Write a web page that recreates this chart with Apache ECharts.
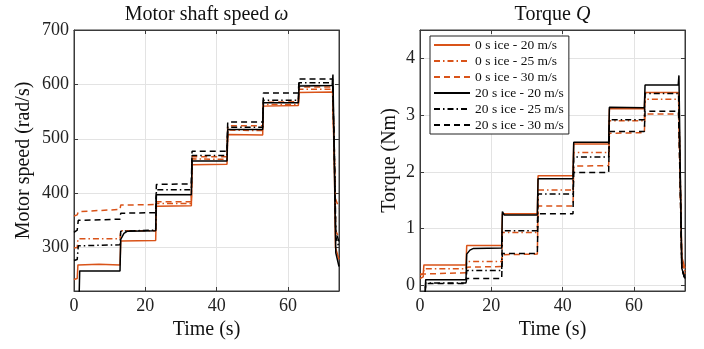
<!DOCTYPE html>
<html>
<head>
<meta charset="utf-8">
<script src="https://cdn.jsdelivr.net/npm/echarts@6/dist/echarts.min.js"></script>
<style>html,body{margin:0;padding:0;background:#fff;}#c{width:704px;height:349px;}</style>
</head>
<body>
<div id="c"></div>
<script>
// ---------- data ----------
const seriesNames = ['0 s ice - 20 m/s','0 s ice - 25 m/s','0 s ice - 30 m/s','20 s ice - 20 m/s','20 s ice - 25 m/s','20 s ice - 30 m/s'];
const timeTicks = [0, 20, 40, 60];
const speedTicks = [300, 400, 500, 600, 700];
const torqueTicks = [0, 1, 2, 3, 4];

// Motor shaft speed [time s, rad/s]
const speedO20 = [[0,241],[0.9,243],[1.1,268],[7,269],[12.9,268],[13.1,312],[22.9,313],[23.1,376],[32.9,377],[33.1,452],[42.9,453],[43.1,508],[52.9,507],[53.1,560],[62.9,561],[63.1,585],[72.5,586],[73.0,450],[73.3,300],[74.3,278]];
const speedO25 = [[0,299],[0.9,300],[1.1,316],[12.9,316],[13.1,331],[22.9,331],[23.1,381],[32.9,381],[33.1,463],[42.9,462],[43.1,516],[52.9,515],[53.1,563],[62.9,563],[63.1,591],[72.5,591],[73.0,460],[73.4,330],[74.3,318]];
const speedO30 = [[0,358],[0.9,360],[1.2,366],[12.9,370],[13.1,378],[22.9,379],[23.1,384],[32.9,384],[33.1,467],[42.9,467],[43.1,524],[52.9,524],[53.1,567],[62.9,568],[63.1,595],[72.5,595],[73.0,480],[73.3,390],[74.3,372]];
const speedB20 = [[0,200],[1.4,200],[1.6,257],[12.9,257],[13.1,315],[14,326],[15,330],[22.9,331],[23.1,397],[32.9,397],[33.1,459],[42.9,459],[43.1,517],[52.9,517],[53.1,566],[62.9,566],[63.1,597],[72.4,598],[72.6,618],[73.0,450],[73.4,290],[74.3,265]];
const speedB25 = [[0,276],[0.9,278],[1.2,303],[12.9,305],[13.1,330],[22.9,332],[23.1,406],[32.9,406],[33.1,469],[42.9,469],[43.1,521],[52.9,521],[53.1,571],[62.9,571],[63.1,603],[72.5,603],[73.0,470],[73.4,320],[74.3,300]];
const speedB30 = [[0,328],[0.9,332],[1.2,350],[12.9,352],[13.1,363],[22.9,364],[23.1,416],[32.9,417],[33.1,477],[42.9,477],[43.1,531],[52.9,531],[53.1,584],[62.9,584],[63.1,610],[72.5,610],[73.0,480],[73.4,330],[74.3,310]];

// Torque [time s, Nm]
const torqueO20 = [[0,0.18],[0.9,0.2],[1.1,0.36],[12.9,0.36],[13.1,0.70],[22.9,0.70],[23.1,1.26],[32.9,1.26],[33.1,1.93],[42.9,1.93],[43.1,2.49],[52.9,2.49],[53.1,3.11],[62.9,3.11],[63.1,3.40],[72.5,3.40],[73.0,1.8],[73.4,0.5],[74.3,0.3]];
const torqueO25 = [[0,0.12],[0.9,0.15],[1.1,0.29],[12.9,0.29],[13.1,0.42],[22.9,0.42],[23.1,0.93],[32.9,0.93],[33.1,1.68],[42.9,1.68],[43.1,2.34],[52.9,2.34],[53.1,2.90],[62.9,2.90],[63.1,3.28],[72.5,3.28],[73.0,1.7],[73.4,0.4],[74.3,0.25]];
const torqueO30 = [[0,0.2],[0.9,0.2],[1.1,0.23],[12.9,0.22],[13.1,0.32],[22.9,0.33],[23.1,0.54],[32.9,0.55],[33.1,1.40],[42.9,1.40],[43.1,2.10],[52.9,2.11],[53.1,2.68],[62.9,2.69],[63.1,3.02],[72.5,3.02],[73.0,1.6],[73.4,0.4],[74.3,0.2]];
const torqueB20 = [[0,-0.2],[1.4,-0.2],[1.6,0.10],[12.9,0.10],[13.1,0.55],[14,0.62],[15,0.65],[22.9,0.66],[23.1,1.30],[23.6,1.24],[32.9,1.24],[33.1,1.88],[42.9,1.88],[43.1,2.52],[52.9,2.52],[53.1,3.14],[62.9,3.13],[63.1,3.53],[72.4,3.53],[72.6,3.70],[73.0,1.9],[73.4,0.3],[74.3,0.12]];
const torqueB25 = [[0,-0.2],[1.4,-0.2],[1.6,0.04],[12.9,0.04],[13.1,0.26],[22.9,0.26],[23.1,0.96],[32.9,0.96],[33.1,1.61],[42.9,1.61],[43.1,2.26],[52.9,2.26],[53.1,2.92],[62.9,2.92],[63.1,3.38],[72.5,3.38],[73.0,1.8],[73.4,0.3],[74.3,0.1]];
const torqueB30 = [[0,-0.2],[1.4,-0.2],[1.6,0.03],[12.9,0.03],[13.1,0.12],[22.9,0.12],[23.1,0.56],[32.9,0.56],[33.1,1.26],[42.9,1.26],[43.1,1.99],[52.9,1.99],[53.1,2.71],[62.9,2.71],[63.1,3.07],[72.5,3.07],[73.0,1.6],[73.4,0.3],[74.3,0.1]];

const speedData = [speedO20, speedO25, speedO30, speedB20, speedB25, speedB30];
const torqueData = [torqueO20, torqueO25, torqueO30, torqueB20, torqueB25, torqueB30];

// ---------- style ----------
const FONT = 'Liberation Serif';
const ORANGE = '#D95319';
const BLACK = '#000000';
const AX = '#3a3a3a';
const GRIDC = '#e3e3e3';
const styles = [
  {color: ORANGE, type: 'solid'},
  {color: ORANGE, type: [6,3,1.5,3]},
  {color: ORANGE, type: [6,4]},
  {color: BLACK, type: 'solid'},
  {color: BLACK, type: [6,3,1.5,3]},
  {color: BLACK, type: [6,4]}
];

function xAx(gridIndex, pos, name, showLab) {
  return {
    type: 'value', gridIndex: gridIndex, position: pos,
    min: 0, max: 74.3,
    name: name, nameLocation: 'middle',
    nameGap: pos === 'bottom' ? 27 : 5,
    nameTextStyle: pos === 'bottom'
      ? {fontFamily: FONT, fontSize: 20, color: '#111'}
      : {fontFamily: FONT, fontSize: 20, color: '#111', rich: {
          a: {fontFamily: FONT, fontSize: 20, color: '#111'},
          b: {fontFamily: FONT, fontSize: 20, color: '#111', fontStyle: 'italic'}}},
    axisLine: {show: true, onZero: false, lineStyle: {color: AX, width: 1}},
    axisTick: {show: true, inside: true, length: 4, customValues: timeTicks, lineStyle: {color: AX}},
    axisLabel: {show: showLab, customValues: timeTicks, fontFamily: FONT, fontSize: 18, color: '#222', margin: 6},
    splitLine: {show: pos === 'bottom', lineStyle: {color: GRIDC, width: 1}}
  };
}
function yAx(gridIndex, pos, name, mn, mx, ticks, gap) {
  return {
    type: 'value', gridIndex: gridIndex, position: pos,
    min: mn, max: mx,
    name: name, nameLocation: 'middle', nameGap: gap,
    nameTextStyle: {fontFamily: FONT, fontSize: 20, color: '#111'},
    axisLine: {show: true, onZero: false, lineStyle: {color: AX, width: 1}},
    axisTick: {show: true, inside: true, length: 4, customValues: ticks, lineStyle: {color: AX}},
    axisLabel: {show: pos === 'left', customValues: ticks, fontFamily: FONT, fontSize: 18, color: '#222', margin: 5},
    splitLine: {show: pos === 'left', lineStyle: {color: GRIDC, width: 1}}
  };
}

const series = [];
speedData.forEach(function (d, i) {
  series.push({
    name: seriesNames[i], type: 'line', xAxisIndex: 0, yAxisIndex: 0,
    data: d, showSymbol: false, symbol: 'none', clip: true,
    lineStyle: {color: styles[i].color, type: styles[i].type, width: 1.5},
    itemStyle: {color: styles[i].color},
    z: i < 3 ? 2 : 3
  });
});
torqueData.forEach(function (d, i) {
  series.push({
    name: seriesNames[i], type: 'line', xAxisIndex: 2, yAxisIndex: 2,
    data: d, showSymbol: false, symbol: 'none', clip: true,
    lineStyle: {color: styles[i].color, type: styles[i].type, width: 1.5},
    itemStyle: {color: styles[i].color},
    z: i < 3 ? 2 : 3
  });
});

const chart = echarts.init(document.getElementById('c'), null, {renderer: 'canvas'});
chart.setOption({
  animation: false,
  backgroundColor: '#ffffff',
  grid: [
    {left: 74, top: 27, width: 265, height: 264, show: true, borderColor: AX, borderWidth: 1, backgroundColor: '#fff'},
    {left: 420, top: 27, width: 265, height: 264, show: true, borderColor: AX, borderWidth: 1, backgroundColor: '#fff'}
  ],
  xAxis: [
    xAx(0, 'bottom', 'Time (s)', true),
    xAx(0, 'top', '{a|Motor shaft speed }{b|ω}', false),
    xAx(1, 'bottom', 'Time (s)', true),
    xAx(1, 'top', '{a|Torque }{b|Q}', false)
  ],
  yAxis: [
    yAx(0, 'left', 'Motor speed (rad/s)', 220, 700, speedTicks, 40),
    yAx(0, 'right', '', 220, 700, speedTicks, 10),
    yAx(1, 'left', 'Torque (Nm)', -0.1, 4.5, torqueTicks, 20),
    yAx(1, 'right', '', -0.1, 4.5, torqueTicks, 10)
  ],
  legend: {
    show: true, orient: 'vertical', left: 430, top: 36,
    data: seriesNames,
    itemWidth: 36, itemHeight: 14, itemGap: 2,
    padding: [2, 5, 2, 3],
    borderColor: '#222', borderWidth: 1, backgroundColor: '#fff',
    itemStyle: {opacity: 0},
    textStyle: {fontFamily: FONT, fontSize: 13.5, color: '#111', lineHeight: 14},
    selectedMode: false
  },
  series: series
});
</script>
</body>
</html>
